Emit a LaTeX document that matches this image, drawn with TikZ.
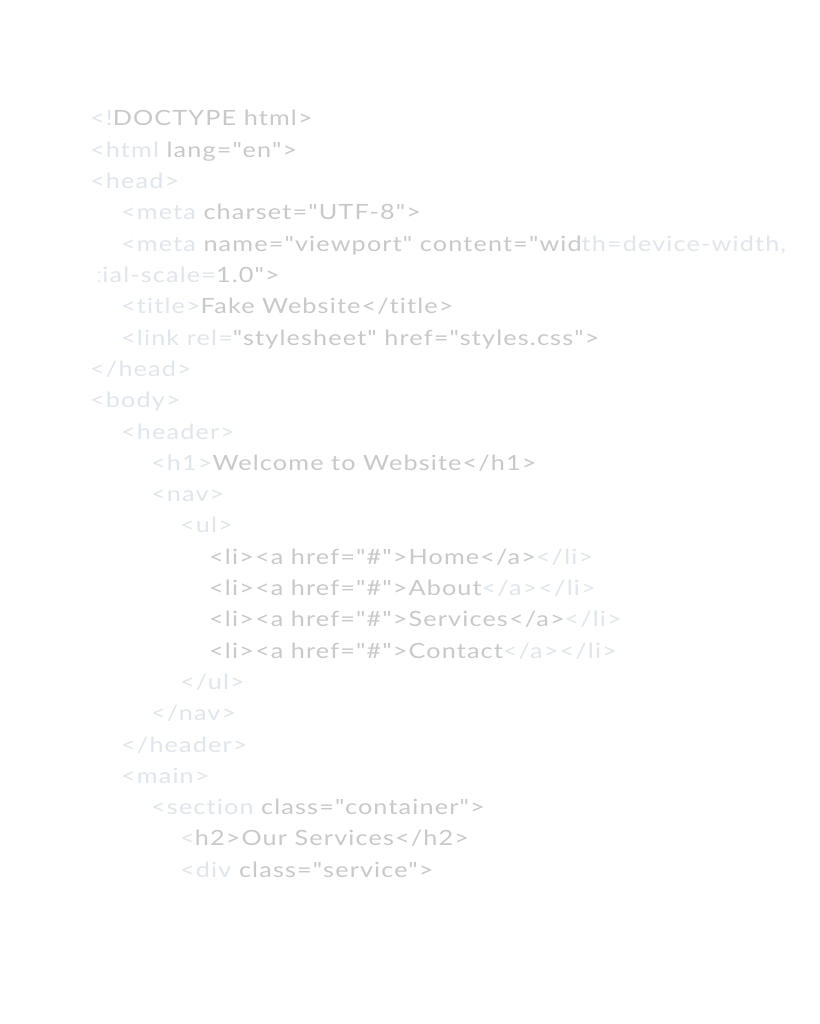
\documentclass[tikz,border=0pt]{standalone}
\usepackage{fontspec}
\setmainfont{Lato}[Ligatures={TeXOff,CommonOff},FakeStretch=1.2,LetterSpace=5.5]
\definecolor{codegray}{HTML}{C9C9C9}
\definecolor{codelight}{HTML}{E0E6EC}
\newcommand{\lt}[1]{\textcolor{codelight}{#1}}
\begin{document}
\begin{tikzpicture}[x=1pt,y=1pt,
  codeline/.style={anchor=base west,inner sep=0pt,text=codegray,
    font=\fontsize{21}{21}\selectfont}]
\useasboundingbox[fill=white] (0,-1024) rectangle (819,0);
\def\lh{31.3}
\node[codeline] (l1) at (90,-126) {\lt{<!}DOCTYPE html>};
\node[codeline] (l2) at (90,-126-1*\lh) {\lt{<html} lang="en">};
\node[codeline] (l3) at (90,-126-2*\lh) {\lt{<head>}};
\node[codeline] (l4) at (121,-126-3*\lh) {\lt{<meta} charset="UTF-8">};
\node[codeline] (l5) at (121,-126-4*\lh) {\lt{<meta} name="viewport" content="wid\lt{th=device-width,}};
\begin{scope}
\clip (98.5,-126-5*\lh-10) rectangle (400,-126-5*\lh+25);
\node[codeline] (l6) at (92,-126-5*\lh) {\lt{tial-scale=}1.0">};
\end{scope}
\node[codeline] (l7) at (121,-126-6*\lh) {\lt{<title>}Fake Website</title>};
\node[codeline] (l8) at (121,-126-7*\lh) {\lt{<link rel=}"stylesheet" href="styles.css">};
\node[codeline] (l9) at (90,-126-8*\lh) {\lt{</head>}};
\node[codeline] (l10) at (90,-126-9*\lh) {\lt{<body>}};
\node[codeline] (l11) at (121,-126-10*\lh) {\lt{<header>}};
\node[codeline] (l12) at (151,-126-11*\lh) {\lt{<h1>}Welcome to Website</h1>};
\node[codeline] (l13) at (151,-126-12*\lh) {\lt{<nav>}};
\node[codeline] (l14) at (180,-126-13*\lh) {\lt{<ul>}};
\node[codeline] (l15) at (209,-126-14*\lh) {<li><a href="\#">Home</a>\lt{</li>}};
\node[codeline] (l16) at (209,-126-15*\lh) {<li><a href="\#">About\lt{</a></li>}};
\node[codeline] (l17) at (209,-126-16*\lh) {<li><a href="\#">Services</a>\lt{</li>}};
\node[codeline] (l18) at (209,-126-17*\lh) {<li><a href="\#">Contact\lt{</a></li>}};
\node[codeline] (l19) at (180,-126-18*\lh) {\lt{</ul>}};
\node[codeline] (l20) at (151,-126-19*\lh) {\lt{</nav>}};
\node[codeline] (l21) at (121,-126-20*\lh) {\lt{</header>}};
\node[codeline] (l22) at (121,-126-21*\lh) {\lt{<main>}};
\node[codeline] (l23) at (151,-126-22*\lh) {\lt{<section} class="container">};
\node[codeline] (l24) at (180,-126-23*\lh) {\lt{<}h2>Our Services</h2>};
\node[codeline] (l25) at (180,-126-24*\lh) {\lt{<div} class="service">};
\end{tikzpicture}
\end{document}
